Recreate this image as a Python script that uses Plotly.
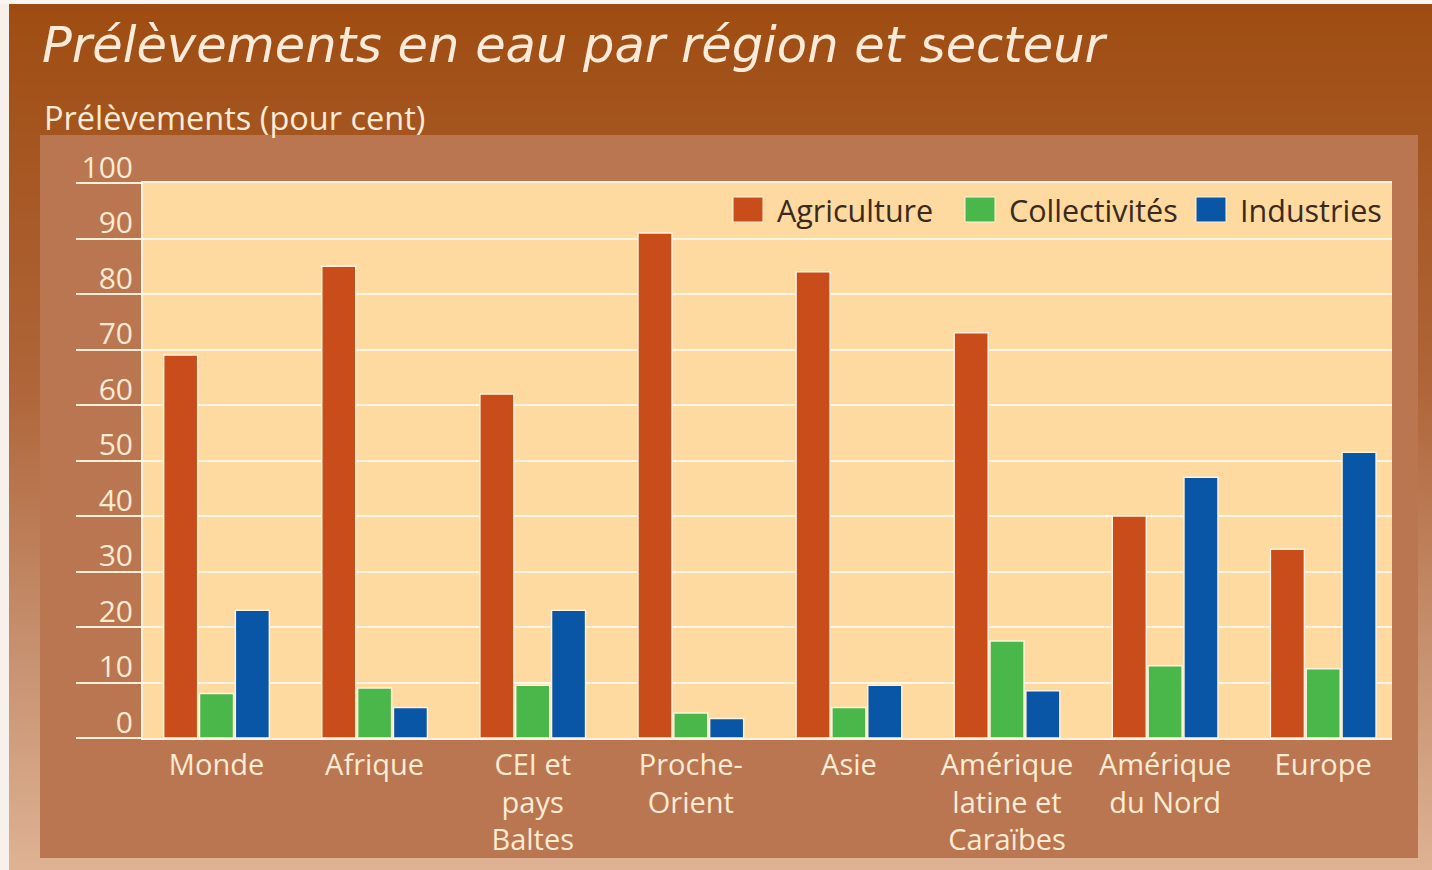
import plotly.graph_objects as go

# Withdrawals by region and sector (percent)
regions = ["Monde", "Afrique", "CEI et<br>pays<br>Baltes", "Proche-<br>Orient", "Asie",
           "Amérique<br>latine et<br>Caraïbes", "Amérique<br>du Nord", "Europe"]
agriculture = [69, 85, 62, 91, 84, 73, 40, 34]
collectivites = [8, 9, 9.5, 4.5, 5.5, 17.5, 13, 12.5]
industries = [23, 5.5, 23, 3.5, 9.5, 8.5, 47, 51.5]

series_names = ["Agriculture", "Collectivités", "Industries"]
series_values = [agriculture, collectivites, industries]
series_colors = ["#C94C1B", "#49B749", "#0A56A6"]

y_ticks = list(range(0, 101, 10))

W, H = 1432, 870
L, R, T, B = 143, 1392, 183, 738   # plot area in pixels
CREAM = "#FDEBD3"
FONT = "Open Sans"


def px_x(px):
    return (px - L) / (R - L)


def px_y(py):
    return (B - py) / (B - T)


def hex_rgb(h):
    return tuple(int(h[i:i + 2], 16) for i in (1, 3, 5))


def lerp_color(stops, t):
    for (t0, c0), (t1, c1) in zip(stops, stops[1:]):
        if t0 <= t <= t1:
            f = (t - t0) / (t1 - t0) if t1 > t0 else 0
            a, b = hex_rgb(c0), hex_rgb(c1)
            return "rgb(%d,%d,%d)" % tuple(round(a[i] + (b[i] - a[i]) * f) for i in range(3))
    return stops[-1][1]


fig = go.Figure()
for name, vals, col in zip(series_names, series_values, series_colors):
    fig.add_trace(go.Bar(
        x=regions, y=vals, name=name,
        marker=dict(color=col, line=dict(color="#FFF2DC", width=1.5)),
        showlegend=False,
    ))

shapes = []
# page background: vertical gradient drawn in thin bands
bg_stops = [(0.0, "#9E4C11"), (0.16, "#A5551F"), (0.45, "#B0663A"),
            (0.75, "#C79170"), (1.0, "#DEB293")]
band = 6
for y0 in range(0, H, band):
    c = lerp_color(bg_stops, (y0 + band / 2) / H)
    shapes.append(dict(type="rect", xref="paper", yref="paper", layer="below",
                       x0=px_x(0), x1=px_x(W), y0=px_y(y0), y1=px_y(y0 + band + 1),
                       fillcolor=c, line=dict(width=0)))
# white margins on the left and top edges
shapes.append(dict(type="rect", xref="paper", yref="paper", layer="below",
                   x0=px_x(0), x1=px_x(9), y0=px_y(0), y1=px_y(H),
                   fillcolor="#F8F1EB", line=dict(width=0)))
shapes.append(dict(type="rect", xref="paper", yref="paper", layer="below",
                   x0=px_x(0), x1=px_x(W), y0=px_y(0), y1=px_y(4),
                   fillcolor="#FBF6F2", line=dict(width=0)))
# inner panel
shapes.append(dict(type="rect", xref="paper", yref="paper", layer="below",
                   x0=px_x(40), x1=px_x(1418), y0=px_y(135), y1=px_y(858),
                   fillcolor="#BA7651", line=dict(width=0)))
# plot area fill
shapes.append(dict(type="rect", xref="paper", yref="paper", layer="below",
                   x0=0, x1=1, y0=0, y1=1,
                   fillcolor="#FED9A0", line=dict(width=0)))

# legend drawn as swatches and labels across the top of the plot
legend_x = [733, 965, 1196]
annotations = []
for x0, name, col in zip(legend_x, series_names, series_colors):
    shapes.append(dict(type="rect", xref="paper", yref="paper",
                       x0=px_x(x0), x1=px_x(x0 + 30), y0=px_y(222), y1=px_y(197),
                       fillcolor=col, line=dict(color="#FFF2DC", width=1)))
    annotations.append(dict(text=name, xref="paper", yref="paper",
                            x=px_x(x0 + 42), y=px_y(210), xanchor="left", yanchor="middle",
                            showarrow=False, font=dict(family=FONT, size=30.5, color="#3A2A1C")))

annotations.append(dict(text="<i>Prélèvements en eau par région et secteur</i>",
                        xref="paper", yref="paper", x=px_x(40), y=px_y(45),
                        xanchor="left", yanchor="middle", showarrow=False,
                        font=dict(family="DejaVu Sans", size=49.5, color="#FCEBD8")))
annotations.append(dict(text="Prélèvements (pour cent)",
                        xref="paper", yref="paper", x=px_x(42), y=px_y(117),
                        xanchor="left", yanchor="middle", showarrow=False,
                        font=dict(family=FONT, size=32.5, color="#FCEBD8")))

fig.update_layout(
    width=W, height=H,
    margin=dict(l=L, r=W - R, t=T, b=H - B, pad=0, autoexpand=False),
    paper_bgcolor="#C48D6A",
    plot_bgcolor="#FED9A0",
    barmode="group", bargap=0.32, bargroupgap=0.05,
    shapes=shapes, annotations=annotations,
    showlegend=False,
    font=dict(family=FONT, color=CREAM),
)
fig.update_xaxes(
    range=[-0.465, 7.435], showgrid=False, ticks="", automargin=False,
    showline=True, mirror=True, linecolor="#FFF4E2", linewidth=2,
    tickfont=dict(family=FONT, size=29, color=CREAM),
    fixedrange=True,
)
fig.update_yaxes(
    range=[0, 100], tickvals=y_ticks, ticktext=[str(v) for v in y_ticks],
    showgrid=True, gridcolor="#FFF6E6", gridwidth=2, zeroline=False, automargin=False,
    showline=True, linecolor="#FFF4E2", linewidth=2,
    ticks="outside", ticklen=65, tickwidth=2, tickcolor="#FFF0DA",
    ticklabelposition="outside top", ticklabelstandoff=2, ticklabelshift=6,
    tickfont=dict(family=FONT, size=30, color=CREAM),
    fixedrange=True,
)

fig.write_html("out.html", config={"displayModeBar": False})
